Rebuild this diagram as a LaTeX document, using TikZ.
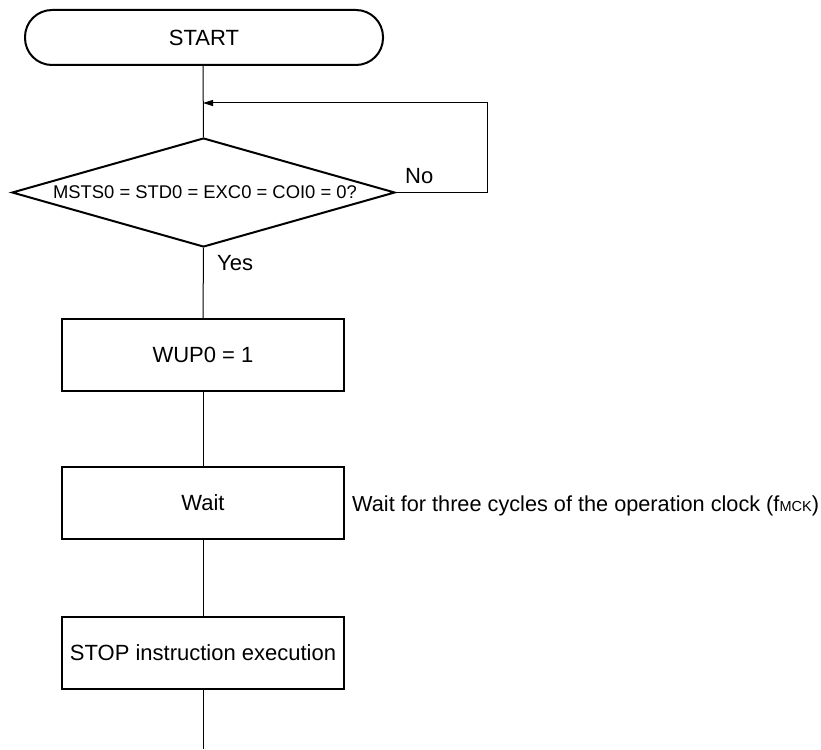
\documentclass[tikz,border=0pt]{standalone}
\usepackage{fontspec}
\setmainfont{Liberation Sans}
\usetikzlibrary{shapes.geometric,arrows.meta}
\begin{document}
\begin{tikzpicture}[x=1pt,y=-1pt,
  every node/.style={font=\fontsize{22}{26}\selectfont},
  procbox/.style={draw,line width=2pt,minimum width=282pt,minimum height=72pt,inner sep=0pt},
  startbox/.style={draw,line width=2pt,rounded corners=27pt,minimum width=358pt,minimum height=55pt,inner sep=0pt},
  decbox/.style={draw,line width=2pt,diamond,minimum width=383pt,minimum height=109pt,inner sep=0pt,aspect=3.5},
  conn/.style={line width=1pt},
  lbl/.style={inner sep=0pt,anchor=base west}]
\useasboundingbox (0,0) rectangle (821,749);
\node[startbox] (start) at (204,37.5) {START};
\node[decbox] (dec) at (203.5,192.5) {};
\node[font=\fontsize{18.4}{22}\selectfont] (dectext) at (205,192) {MSTS0 = STD0 = EXC0 = COI0 = 0?};
\node[procbox] (wup) at (203,355) {WUP0 = 1};
\node[procbox] (wait) at (203,503) {Wait};
\node[procbox] (stop) at (203,653) {STOP instruction execution};
\coordinate (merge) at (203,103);
\coordinate (nr) at (487,192.5);
\coordinate (nt) at (487,103);
\coordinate (endpt) at (203,749);
\node[lbl] (no) at (405,183) {No};
\node[lbl] (yes) at (217,270) {Yes};
\node[lbl,font=\fontsize{21.7}{26}\selectfont] (note) at (352,511) {Wait for three cycles of the operation clock (f{\fontsize{14.5}{16}\selectfont MCK})};
\draw[conn] (start.south -| merge) -- (dec.north);
\draw[conn,-{Triangle[length=10pt,width=6pt]}] (dec.east) -- (nr) -- (nt) -- (merge);
\draw[conn] (dec.south) -- (wup.north);
\draw[conn] (wup.south) -- (wait.north);
\draw[conn] (wait.south) -- (stop.north);
\draw[conn] (stop.south) -- (endpt);
\end{tikzpicture}
\end{document}
